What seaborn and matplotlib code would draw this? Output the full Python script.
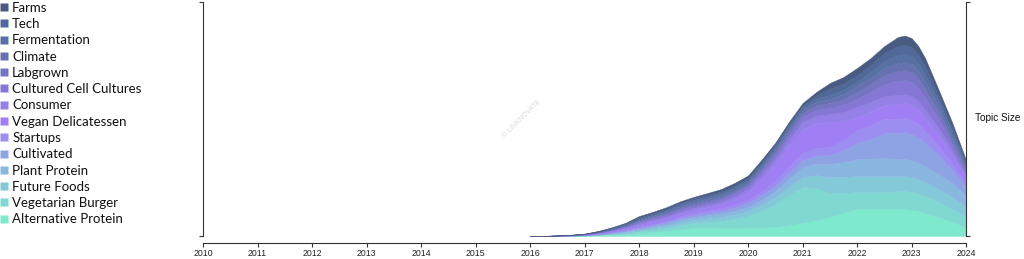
import matplotlib
matplotlib.use("Agg")
import matplotlib.pyplot as plt
import seaborn as sns
from matplotlib.lines import Line2D

# ---------------- data (arbitrary units) ----------------
years = [2016.0, 2016.25, 2016.5, 2016.75, 2017.0, 2017.25, 2017.5, 2017.75,
         2018.0, 2018.25, 2018.5, 2018.75, 2019.0, 2019.25, 2019.5, 2019.75,
         2020.0, 2020.25, 2020.5, 2020.75, 2021.0, 2021.25, 2021.5, 2021.75,
         2022.0, 2022.25, 2022.5, 2022.75, 2022.875, 2023.0, 2023.125, 2023.25,
         2023.5, 2023.75, 2024.0]

# legend order (top of legend = top of stack)
topics = ["Farms", "Tech", "Fermentation", "Climate", "Labgrown",
          "Cultured Cell Cultures", "Consumer", "Vegan Delicatessen", "Startups",
          "Cultivated", "Plant Protein", "Future Foods", "Vegetarian Burger",
          "Alternative Protein"]

alternative_protein = [0, .03, .09, .2, .36, .75, 1.3, 1.8, 3, 4, 5, 6.8, 8, 8.2, 8, 8, 8,
                       8.5, 9, 11, 13, 16, 19, 23, 27, 27, 27, 27, 27, 26, 25, 23, 19, 14, 9]
vegetarian_burger = [0, .016, .05, .1, .19, .38, .65, 1.0, 1.5, 2.1, 2.8, 4, 5, 6, 7, 9, 12,
                     17, 23, 30, 36, 32, 24, 20, 17, 17, 17, 18, 18, 18, 17.5, 17, 15, 13, 10]
future_foods = [0, .014, .04, .09, .17, .35, .6, 1.0, 1.4, 1.9, 2.3, 2.7, 3, 3.5, 4, 4.5, 5,
                6, 7, 8.5, 10, 13, 16, 16, 16, 16, 16, 15, 15, 15, 14.5, 14, 13, 12, 10]
plant_protein = [0, .014, .04, .09, .17, .35, .6, 1.0, 1.4, 1.9, 2.3, 2.7, 3, 3.2, 3.5, 3.8, 4,
                 5, 6, 8, 10, 11.5, 13, 15, 17, 17.5, 18, 17, 17, 17, 16.5, 16, 15, 14, 12]
cultivated = [0, .01, .03, .065, .12, .26, .45, .7, 1, 1.2, 1.4, 1.7, 2, 2.2, 2.5, 3.2, 4,
              4.5, 5, 6, 7, 8, 9, 12, 16, 20, 25, 26, 27, 26, 25, 23, 19, 13, 8]
startups = [0, .01, .03, .065, .12, .26, .45, .7, 1, 1.2, 1.4, 1.7, 2, 2.2, 2.5, 2.8, 3,
            4, 5, 6, 7, 7.5, 8, 10, 13, 13.5, 14, 14, 14, 14, 13.5, 12, 9, 6, 4]
vegan_delicatessen = [0, .02, .06, .13, .24, .5, .9, 1.2, 2, 2.2, 2.4, 2.7, 3, 3.4, 4, 5.5, 8,
                      12.5, 17, 21, 24, 25, 25, 19, 13, 13.5, 14, 15, 15, 15, 14.5, 13, 11, 8, 5]
consumer = [0, .014, .04, .09, .17, .35, .6, .9, 1.4, 1.6, 1.9, 2, 2, 2.2, 2.5, 2.8, 3,
            4, 5, 6, 7, 7.5, 8, 9, 10, 9.5, 9, 9, 9, 9, 8.5, 8, 7, 5, 3]
cultured_cell_cultures = [0, .014, .04, .09, .17, .35, .6, .9, 1.4, 1.6, 1.9, 2, 2, 2.2, 2.5, 2.8, 3,
                          3.5, 4, 4.5, 5, 5.5, 6, 7, 8, 10, 12, 14, 14, 14, 13, 12, 9, 6, 3]
labgrown = [0, .01, .03, .065, .12, .26, .45, .7, 1, 1.2, 1.4, 1.7, 2, 2, 2, 2, 2,
            2.5, 3, 3.5, 4, 4.5, 5, 6, 7, 8, 9, 10, 10, 10, 9.5, 9, 7, 5, 3]
climate = [0, .01, .03, .065, .12, .26, .45, .7, 1, 1.2, 1.4, 1.7, 2, 2, 2, 2, 2,
           2.2, 2.5, 2.8, 3, 3.5, 4, 5, 6, 6.5, 7, 8, 8, 8, 7.5, 7, 5.5, 4, 2]
fermentation = [0, .01, .03, .065, .12, .26, .45, .7, 1, 1.2, 1.4, 1.7, 2, 2, 2, 2, 2,
                2.2, 2.5, 2.5, 2.5, 3.2, 4, 4, 4, 5.5, 7, 8, 8, 8, 7.5, 7, 5.5, 4, 2]
tech = [0, .014, .04, .09, .17, .35, .6, .9, 1.4, 1.2, 1.4, 1.5, 1.5, 1.8, 2, 2, 2,
        2, 2, 2, 2, 3.4, 6, 6.5, 7, 7, 8, 9, 9, 9, 9, 9, 5.5, 4, 3]
farms = [0, .014, .04, .09, .17, .38, .65, 1.0, 1.5, 1.6, 1.8, 1.7, 1.6, 2, 2.4, 2.6, 2.6,
         2.5, 2.4, 2.4, 2.4, 3.4, 6, 6.5, 7, 7, 7, 9, 9.5, 9, 8.5, 8, 5.5, 5, 2]

colors = {
    "Farms": "#4a5b82",
    "Tech": "#50699a",
    "Fermentation": "#5871a5",
    "Climate": "#6671b0",
    "Labgrown": "#7874c4",
    "Cultured Cell Cultures": "#8677d6",
    "Consumer": "#9580e8",
    "Vegan Delicatessen": "#a07ff4",
    "Startups": "#9b8ef0",
    "Cultivated": "#8ea3e4",
    "Plant Protein": "#8ab7e0",
    "Future Foods": "#84c9d8",
    "Vegetarian Burger": "#80d9d0",
    "Alternative Protein": "#7ee9cc",
}

x_ticks = list(range(2010, 2025))

# ---------------- figure ----------------
sns.set_theme(style="white")
plt.rcParams["font.family"] = ["Liberation Sans", "DejaVu Sans"]

fig = plt.figure(figsize=(10.24, 2.59), dpi=100)
ax = fig.add_axes([203 / 1024, 1 - 236 / 259, (966 - 203) / 1024, 234 / 259])

stack_bottom_up = [alternative_protein, vegetarian_burger, future_foods, plant_protein,
                   cultivated, startups, vegan_delicatessen, consumer,
                   cultured_cell_cultures, labgrown, climate, fermentation, tech, farms]
names_bottom_up = topics[::-1]
ax.stackplot(years, *stack_bottom_up,
             colors=[colors[n] for n in names_bottom_up],
             linewidth=0.3, edgecolor="face", antialiased=True)

ax.set_xlim(2010, 2024)
ax.set_ylim(0, 234)

spine_col = "#333333"
ax.spines["top"].set_visible(False)
for s in ["left", "right", "bottom"]:
    ax.spines[s].set_visible(True)
    ax.spines[s].set_color(spine_col)
    ax.spines[s].set_linewidth(0.8)
ax.spines["bottom"].set_position(("outward", 5.0))

ax.set_xticks(x_ticks)
ax.set_xticklabels([str(t) for t in x_ticks])
ax.tick_params(axis="x", direction="out", length=3, width=0.8, color=spine_col,
               labelsize=6.3, pad=1.5, labelcolor="#222222", bottom=True)
ax.set_yticks([0, 234])
ax.tick_params(axis="y", direction="out", length=3, width=0.8, color=spine_col,
               left=True, right=True, labelleft=False, labelright=False)
ax.grid(False)

# right label
fig.text(975 / 1024, 1 - 118 / 259, "Topic Size", fontsize=7.2, va="center", ha="left",
         color="#111111")

# watermark
ax.text(2015.85, 117, "© LINKNOVATE", rotation=45, fontsize=5, color="#dcdcdc",
        ha="center", va="center")

# legend
handles = [Line2D([0], [0], marker="s", linestyle="none", markersize=6,
                  markerfacecolor=colors[n], markeredgecolor="none") for n in topics]
leg = fig.legend(handles, topics, loc="upper left", bbox_to_anchor=(-0.003, 0.9936),
                 frameon=False, prop={"family": ["Lato", "DejaVu Sans"], "size": 9.5},
                 labelspacing=0.325, handletextpad=0.15, handlelength=1.0,
                 borderaxespad=0.0, borderpad=0.0)
for t in leg.get_texts():
    t.set_color("#111111")

fig.savefig("out.png", dpi=100)
